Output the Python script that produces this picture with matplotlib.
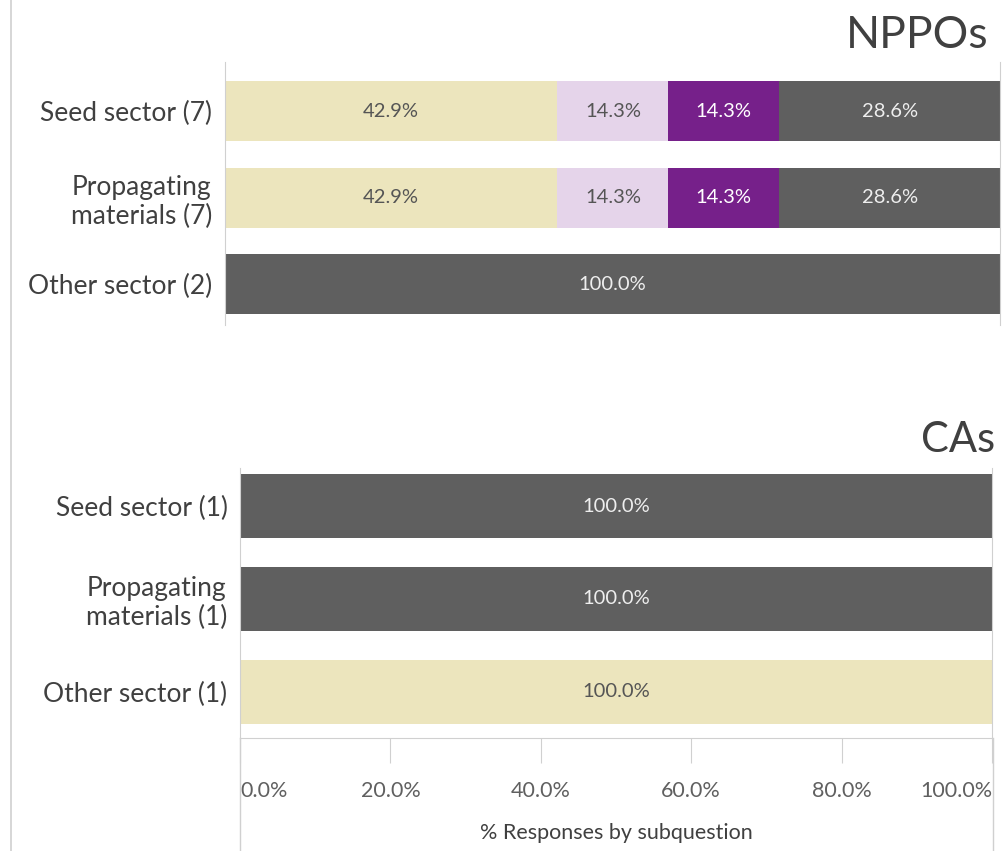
import matplotlib.pyplot as plt
from matplotlib.lines import Line2D

plt.rcParams['font.family'] = ['Lato', 'DejaVu Sans']

# data
labels_nppo = ["Seed sector (7)", "Propagating\nmaterials (7)", "Other sector (2)"]
labels_ca = ["Seed sector (1)", "Propagating\nmaterials (1)", "Other sector (1)"]

# share of responses per answer option (4 options, stacked left to right)
nppo_opt1 = [42.9, 42.9, 0.0]
nppo_opt2 = [14.3, 14.3, 0.0]
nppo_opt3 = [14.3, 14.3, 0.0]
nppo_opt4 = [28.6, 28.6, 100.0]

ca_opt1 = [0.0, 0.0, 100.0]
ca_opt2 = [0.0, 0.0, 0.0]
ca_opt3 = [0.0, 0.0, 0.0]
ca_opt4 = [100.0, 100.0, 0.0]

xticks = [0, 20, 40, 60, 80, 100]
xticklabels = ["0.0%", "20.0%", "40.0%", "60.0%", "80.0%", "100.0%"]

colors = ["#ece5bd", "#e5d4ea", "#76208a", "#5f5f5f"]
txt_colors = ["#555555", "#555555", "#ffffff", "#eeeeee"]
frame = "#d0d0d0"

W, H = 1006, 851
fig = plt.figure(figsize=(W / 100, H / 100), dpi=100)


def px_axes(x0, y0, x1, y1):
    return fig.add_axes([x0 / W, 1 - y1 / H, (x1 - x0) / W, (y1 - y0) / H])


def draw_panel(ax, cats, series, ylim):
    y = list(range(len(cats)))
    left = [0.0] * len(cats)
    for vals, c, tc in zip(series, colors, txt_colors):
        ax.barh(y, vals, left=left, height=0.69, color=c, edgecolor='none')
        for i, v in enumerate(vals):
            if v > 0:
                ax.text(left[i] + v / 2, y[i], f"{v:.1f}%", ha='center', va='center',
                        fontsize=14.5, color=tc)
        left = [l + v for l, v in zip(left, vals)]
    ax.set_xlim(0, 100)
    ax.set_ylim(*ylim)
    ax.set_yticks(y)
    ax.set_yticklabels(cats, fontsize=19, color="#404040", multialignment='center')
    ax.tick_params(axis='y', length=0, pad=9)
    for s in ax.spines.values():
        s.set_color(frame)
    ax.spines['top'].set_visible(False)


# NPPOs panel
ax1 = px_axes(225, 62, 1000, 325)
draw_panel(ax1, labels_nppo, [nppo_opt1, nppo_opt2, nppo_opt3, nppo_opt4], (2.47, -0.57))
ax1.spines['bottom'].set_visible(False)
ax1.set_xticks([])
fig.text(988 / W, 1 - 35 / H, "NPPOs", ha='right', va='center', fontsize=32, color="#404040")

# CAs panel
ax2 = px_axes(240, 468, 992, 738)
draw_panel(ax2, labels_ca, [ca_opt1, ca_opt2, ca_opt3, ca_opt4], (2.5, -0.41))
ax2.set_xticks(xticks)
ax2.set_xticklabels(xticklabels, fontsize=15.5, color="#606060")
ax2.tick_params(axis='x', length=18, color=frame, pad=13)
tl = ax2.get_xticklabels()
tl[0].set_ha('left')
tl[-1].set_ha('right')
ax2.set_xlabel("% Responses by subquestion", fontsize=15.5, color="#404040", labelpad=16)
fig.text(995 / W, 1 - 440 / H, "CAs", ha='right', va='center', fontsize=30, color="#404040")

# outer frame lines
fig.add_artist(Line2D([11 / W, 11 / W], [0, 1], color=frame, lw=1.2))
fig.add_artist(Line2D([240 / W, 240 / W], [0, 1 - 738 / H], color=frame, lw=1))
fig.add_artist(Line2D([993 / W, 993 / W], [0, 1 - 738 / H], color=frame, lw=1))

fig.savefig("out.png", dpi=100)
